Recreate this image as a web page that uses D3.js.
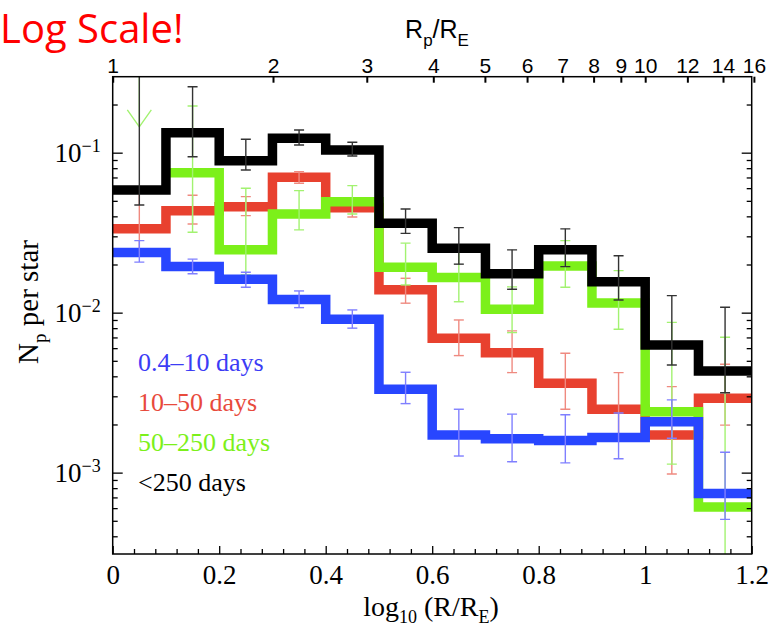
<!DOCTYPE html>
<html>
<head>
<meta charset="utf-8">
<script src="https://cdn.jsdelivr.net/npm/d3@7"></script>
<style>
body { margin: 0; background: #fff; }
</style>
</head>
<body>
<div id="chart"></div>
<script>
// bins in log10(R/RE)
const binStart = [0, 0.1, 0.2, 0.3, 0.4, 0.5, 0.6, 0.7, 0.8, 0.9, 1.0, 1.1];
const binEnd = 1.2;

// 0.4-10 days
const shortP  = [0.0238, 0.0194, 0.0162, 0.0121, 0.0091, 0.00332, 0.00172, 0.00163, 0.00159, 0.00166, 0.00208, 0.00074];
const shortLo = [0.0207, 0.0175, 0.0144, 0.01075, 0.0080, 0.0027, 0.00127, 0.00117, 0.00115, 0.00122, 0.00164, 0.00051];
const shortHi = [0.0282, 0.0216, 0.0179, 0.01367, 0.0104, 0.00424, 0.00249, 0.00232, 0.0023, 0.00236, 0.00285, 0.00134];

// 10-50 days
const midP  = [0.0334, 0.0434, 0.046, 0.0702, 0.0453, 0.0139, 0.00692, 0.00562, 0.00362, 0.00249, 0.00172, 0.00292];
const midLo = [0.0236, 0.0358, 0.0404, 0.0644, 0.0396, 0.01146, 0.00539, 0.00422, 0.00249, 0.00172, 0.00098, 0.00198];
const midHi = [0.056, 0.0542, 0.0531, 0.0761, 0.0521, 0.0164, 0.009, 0.00769, 0.00557, 0.00422, 0.00345, 0.00476];

// 50-250 days (first bin is only an upper limit)
const longP  = [null, 0.075, 0.0247, 0.0414, 0.0494, 0.0192, 0.0166, 0.0105, 0.0196, 0.0115, 0.0024, 0.00061];
const longLo = [null, 0.0318, 0.0172, 0.0329, 0.0414, 0.0149, 0.0117, 0.0075, 0.0144, 0.00787, 0.00113, 0.0001];
const longHi = [null, 0.196, 0.0599, 0.0579, 0.0622, 0.0272, 0.0254, 0.0145, 0.0282, 0.0183, 0.0087, 0.00702];
const longLimitBin = [0];
const longLimitVal = [0.145];

// <250 days
const allP  = [0.0585, 0.1334, 0.0891, 0.123, 0.104, 0.0362, 0.0253, 0.0175, 0.0247, 0.0156, 0.00628, 0.00432];
const allLo = [0.0471, 0.0944, 0.078, 0.1117, 0.0954, 0.0313, 0.0201, 0.014, 0.0194, 0.012, 0.00471, 0.00316];
const allHi = [0.5, 0.2585, 0.1213, 0.1387, 0.1161, 0.0445, 0.034, 0.0247, 0.0334, 0.0227, 0.01277, 0.01081];

const seriesNames = ['0.4\u201310 days', '10\u201350 days', '50\u2013250 days', '<250 days'];

// tick labels
const xTicks = [0, 0.2, 0.4, 0.6, 0.8, 1, 1.2];
const rTicks = [1, 2, 3, 4, 5, 6, 7, 8, 9, 10, 12, 14, 16];
const yTicks = [1e-3, 1e-2, 1e-1];

const series = [
    {p: shortP, lo: shortLo, hi: shortHi, color: '#2846ff', bar: '#7f7fff'},
    {p: midP, lo: midLo, hi: midHi, color: '#e8412f', bar: '#ef8a80'},
    {p: longP, lo: longLo, hi: longHi, color: '#7cf01a', bar: '#a2f270'},
    {p: allP, lo: allLo, hi: allHi, color: '#000000', bar: '#333333'}
];
const drawOrder = [1, 2, 0, 3];

const W = 769, H = 636;
const padding = {left: 112.7, right: 17.3, top: 76.7, bottom: 82};
const serif = '"Liberation Serif", "DejaVu Serif", serif';
const sans = '"Liberation Sans", Arial, sans-serif';

let svg = d3.select('#chart').append('svg').attr('width', W).attr('height', H);

let xScale = d3.scaleLinear().domain([0, binEnd]).range([padding.left, W - padding.right]);
let rScale = d3.scaleLog().domain([1, Math.pow(10, binEnd)]).range([padding.left, W - padding.right]);
let yScale = d3.scaleLog().domain([3.1e-4, 0.2985]).range([H - padding.bottom, padding.top]);

let x0 = padding.left, x1 = W - padding.right, y0 = H - padding.bottom, y1 = padding.top;

svg.append('clipPath').attr('id', 'plot').append('rect')
    .attr('x', x0).attr('y', y1).attr('width', x1 - x0).attr('height', y0 - y1);

let plot = svg.append('g').attr('clip-path', 'url(#plot)');

//step lines + error bars
let stepLine = d3.line()
    .defined(d => d.v != null)
    .x(d => xScale(d.x))
    .y(d => yScale(d.v))
    .curve(d3.curveStepAfter);

drawOrder.forEach(k => {
    let s = series[k];
    let pts = binStart.map((b, i) => ({x: b, v: s.p[i]}));
    pts.push({x: binEnd, v: s.p[s.p.length - 1]});
    plot.append('path').attr('d', stepLine(pts))
        .attr('fill', 'none').attr('stroke', s.color).attr('stroke-width', 9.5)
        .attr('stroke-linejoin', 'miter');

    let bars = plot.append('g').attr('stroke', s.bar).attr('stroke-width', 1.4).attr('fill', 'none');
    binStart.forEach((b, i) => {
        if (s.p[i] == null) return;
        let cx = xScale(b + 0.05);
        let ya = yScale(s.lo[i]), yb = yScale(s.hi[i]);
        bars.append('line').attr('x1', cx).attr('x2', cx).attr('y1', ya).attr('y2', yb);
        bars.append('line').attr('x1', cx - 5).attr('x2', cx + 5).attr('y1', ya).attr('y2', ya);
        bars.append('line').attr('x1', cx - 5).attr('x2', cx + 5).attr('y1', yb).attr('y2', yb);
    });

    if (k === 2) {
        longLimitBin.forEach((bi, j) => {
            let cx = xScale(binStart[bi] + 0.05);
            let ty = yScale(longLimitVal[j]);
            bars.append('line').attr('x1', cx).attr('x2', cx).attr('y1', y1).attr('y2', ty);
            bars.append('path').attr('d', 'M' + (cx - 12) + ',' + (ty - 17) + 'L' + cx + ',' + ty + 'L' + (cx + 12) + ',' + (ty - 17));
        });
    }
});

//坐标轴
let axisStyle = g => {
    g.select('.domain').remove();
    g.selectAll('line').attr('stroke', '#000').attr('stroke-width', 1.3);
};

let xMinor = d3.range(0, 1.2001, 0.04).filter(v => Math.abs(v / 0.2 - Math.round(v / 0.2)) > 1e-6);

svg.append('g').attr('transform', 'translate(0,' + y0 + ')')
    .call(d3.axisBottom(xScale).tickValues(xMinor).tickSize(-5).tickFormat(''))
    .call(axisStyle);
svg.append('g').attr('transform', 'translate(0,' + y0 + ')')
    .call(d3.axisBottom(xScale).tickValues(xTicks).tickSize(-8).tickPadding(11).tickFormat(d => String(d)))
    .call(axisStyle)
    .call(g => g.selectAll('text').attr('font-family', serif).attr('font-size', 27).attr('fill', '#000'));

// top axis in Rp/RE
svg.append('g').attr('transform', 'translate(0,' + y1 + ')')
    .call(d3.axisTop(rScale).tickValues(rTicks).tickSize(-6).tickPadding(4).tickFormat(d => String(d)))
    .call(axisStyle)
    .call(g => g.selectAll('line').attr('stroke-width', 2))
    .call(g => g.selectAll('text').attr('font-family', sans).attr('font-size', 21).attr('fill', '#000'));

let yMinor = yScale.ticks().filter(v => yTicks.indexOf(v) < 0);

[[x0, d3.axisLeft], [x1, d3.axisRight]].forEach(([px, ax], side) => {
    svg.append('g').attr('transform', 'translate(' + px + ',0)')
        .call(ax(yScale).tickValues(yMinor).tickSize(-5).tickFormat(''))
        .call(axisStyle);
    let g = svg.append('g').attr('transform', 'translate(' + px + ',0)')
        .call(ax(yScale).tickValues(yTicks).tickSize(-10).tickPadding(12).tickFormat(''))
        .call(axisStyle);
    if (side === 0) {
        g.selectAll('.tick text').each(function (d) {
            let t = d3.select(this).attr('font-family', serif).attr('font-size', 27).attr('fill', '#000');
            t.append('tspan').text('10');
            t.append('tspan').attr('font-size', 18).attr('dy', -10).text('\u2212' + Math.round(-Math.log10(d)));
        });
    }
});

svg.append('rect').attr('x', x0).attr('y', y1).attr('width', x1 - x0).attr('height', y0 - y1)
    .attr('fill', 'none').attr('stroke', '#000').attr('stroke-width', 1.5);

// legend
let legendColors = ['#3c3cf5', '#e84a3c', '#7cf01a', '#000'];
seriesNames.forEach((name, i) => {
    svg.append('text').attr('x', 138).attr('y', 371 + i * 40)
        .attr('font-family', serif).attr('font-size', 26).attr('fill', legendColors[i])
        .text(name);
});

// axis titles
let xt = svg.append('text').attr('x', 431).attr('y', 616).attr('text-anchor', 'middle')
    .attr('font-family', serif).attr('font-size', 28);
xt.append('tspan').text('log');
xt.append('tspan').attr('font-size', 18).attr('dy', 7).text('10');
xt.append('tspan').attr('dy', -7).text(' (R/R');
xt.append('tspan').attr('font-size', 18).attr('dy', 7).text('E');
xt.append('tspan').attr('dy', -7).text(')');

let yt = svg.append('text').attr('transform', 'translate(38,302) rotate(-90)').attr('text-anchor', 'middle')
    .attr('font-family', serif).attr('font-size', 29);
yt.append('tspan').text('N');
yt.append('tspan').attr('font-size', 19).attr('dy', 8).text('p');
yt.append('tspan').attr('dy', -8).text(' per star');

let tt = svg.append('text').attr('x', 437).attr('y', 38).attr('text-anchor', 'middle')
    .attr('font-family', sans).attr('font-size', 25);
tt.append('tspan').text('R');
tt.append('tspan').attr('font-size', 17).attr('dy', 8).text('p');
tt.append('tspan').attr('dy', -8).text('/R');
tt.append('tspan').attr('font-size', 17).attr('dy', 8).text('E');

svg.append('text').attr('x', 0).attr('y', 43)
    .attr('font-family', '"Open Sans", Lato, sans-serif').attr('font-size', 40).attr('fill', '#ff0000')
    .text('Log Scale!');
</script>
</body>
</html>
